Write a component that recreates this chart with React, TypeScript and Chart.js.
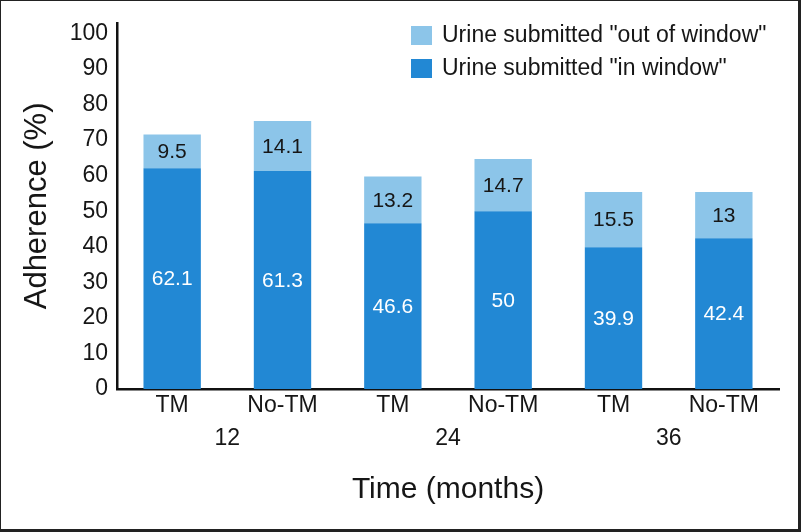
import React, { useEffect, useRef } from "react";
import { Chart, registerables } from "chart.js";

Chart.register(...registerables);

const months = ["12", "24", "36"];
const groups = ["TM", "No-TM", "TM", "No-TM", "TM", "No-TM"];
const inWindow = [62.1, 61.3, 46.6, 50, 39.9, 42.4];
const outWindow = [9.5, 14.1, 13.2, 14.7, 15.5, 13];
const seriesNames = ['Urine submitted "in window"', 'Urine submitted "out of window"'];
const yTickValues = [0, 10, 20, 30, 40, 50, 60, 70, 80, 90, 100];

const DARK = "#2288d4";
const LIGHT = "#8cc5e9";
const INK = "#161616";
const FONT = "'Liberation Sans', Arial, sans-serif";

const overlayPlugin = {
  id: "overlay",
  afterDatasetsDraw(chart: any) {
    const ctx = chart.ctx;
    ctx.save();
    ctx.font = `21px ${FONT}`;
    ctx.textAlign = "center";
    ctx.textBaseline = "middle";
    chart.data.datasets.forEach((ds: any, di: number) => {
      const meta = chart.getDatasetMeta(di);
      meta.data.forEach((bar: any, i: number) => {
        const cy = (bar.y + bar.base) / 2;
        ctx.fillStyle = di === 0 ? "#ffffff" : INK;
        ctx.fillText(String(ds.data[i]), bar.x, cy + 1);
      });
    });
    ctx.restore();
  },
  afterDraw(chart: any) {
    const ctx = chart.ctx;
    const xs = chart.scales.x;
    ctx.save();
    // group labels (months)
    ctx.font = `23px ${FONT}`;
    ctx.fillStyle = INK;
    ctx.textAlign = "center";
    ctx.textBaseline = "middle";
    months.forEach((m, i) => {
      const x = (xs.getPixelForValue(2 * i) + xs.getPixelForValue(2 * i + 1)) / 2;
      ctx.fillText(m, x, 439);
    });
    // legend
    const items = [
      { label: seriesNames[1], color: LIGHT, y: 26 },
      { label: seriesNames[0], color: DARK, y: 59 },
    ];
    ctx.font = `23px ${FONT}`;
    ctx.textAlign = "left";
    items.forEach((it) => {
      ctx.fillStyle = it.color;
      ctx.fillRect(411, it.y, 21, 19);
      ctx.fillStyle = INK;
      ctx.fillText(it.label, 442, it.y + 10);
    });
    // frame
    ctx.fillStyle = "#222222";
    ctx.fillRect(0, 0, 801, 1);
    ctx.fillRect(0, 0, 1, 532);
    ctx.fillRect(798, 0, 3, 532);
    ctx.fillRect(0, 529, 801, 3);
    ctx.restore();
  },
};

export default function App() {
  const canvasRef = useRef<HTMLCanvasElement | null>(null);

  useEffect(() => {
    document.body.style.margin = "0";
    const canvas = canvasRef.current;
    if (!canvas) return;
    const chart = new Chart(canvas, {
      type: "bar",
      data: {
        labels: groups,
        datasets: [
          {
            label: seriesNames[0],
            data: inWindow,
            backgroundColor: DARK,
            stack: "s",
          },
          {
            label: seriesNames[1],
            data: outWindow,
            backgroundColor: LIGHT,
            stack: "s",
          },
        ],
      },
      options: {
        animation: false,
        responsive: false,
        devicePixelRatio: 1,
        layout: { padding: { left: 0, right: 22, top: 0, bottom: 0 } },
        datasets: {
          bar: { categoryPercentage: 1, barPercentage: 0.52 },
        },
        plugins: {
          legend: { display: false },
          tooltip: { enabled: false },
        },
        scales: {
          x: {
            stacked: true,
            grid: { display: false, drawTicks: false },
            border: { display: true, color: "#111111", width: 2.5 },
            ticks: {
              color: INK,
              font: { family: FONT, size: 23 },
              padding: 3,
              maxRotation: 0,
              autoSkip: false,
            },
            title: {
              display: true,
              text: "Time (months)",
              color: INK,
              font: { family: FONT, size: 30 },
              padding: { top: 0, bottom: 24 },
            },
            afterFit: (s: any) => {
              s.height = 143;
            },
          },
          y: {
            stacked: true,
            min: 0,
            max: 103,
            grid: { display: false, drawTicks: false },
            border: { display: true, color: "#111111", width: 2.5 },
            ticks: {
              color: INK,
              font: { family: FONT, size: 23 },
              padding: 9,
              stepSize: 10,
            },
            afterBuildTicks: (axis: any) => {
              axis.ticks = yTickValues.map((v) => ({ value: v }));
            },
            title: {
              display: true,
              text: "Adherence (%)",
              color: INK,
              font: { family: FONT, size: 31 },
              padding: { top: 19, bottom: 0 },
            },
            afterFit: (s: any) => {
              s.width = 117;
            },
          },
        },
      },
      plugins: [overlayPlugin],
    });
    return () => chart.destroy();
  }, []);

  return (
    <div style={{ width: 801, height: 532, position: "relative", background: "#fff" }}>
      <canvas ref={canvasRef} width={801} height={532} style={{ display: "block" }} />
    </div>
  );
}
